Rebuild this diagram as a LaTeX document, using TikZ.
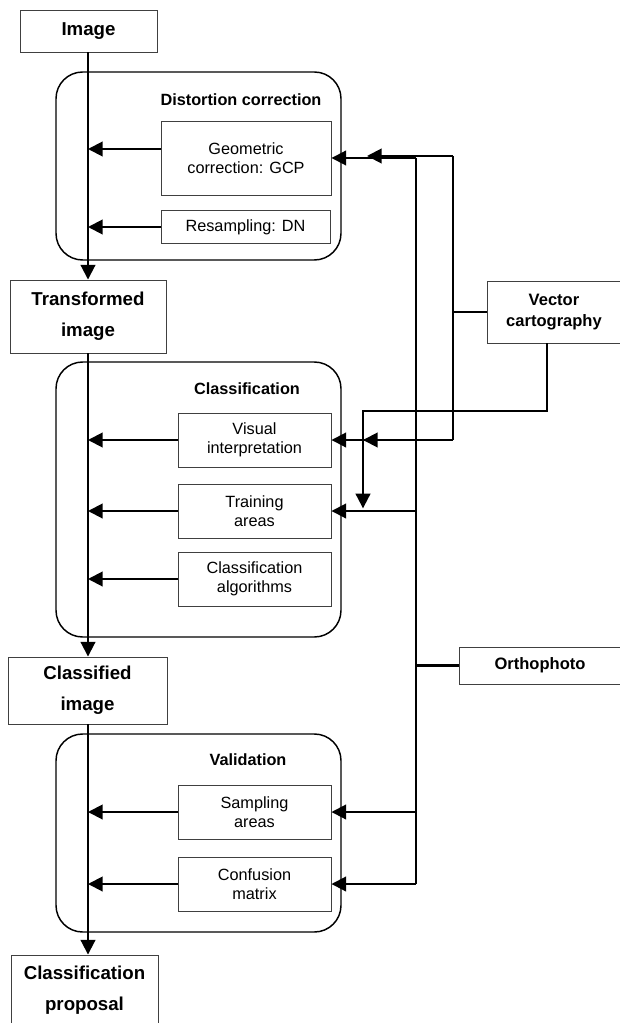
\documentclass[tikz,border=0pt]{standalone}
\usepackage{fontspec}
\setmainfont{Liberation Sans}
\usetikzlibrary{arrows.meta}
\begin{document}
\begin{tikzpicture}[x=0.75pt,y=-0.75pt,
  box/.style={draw=black!75, line width=0.7pt, rectangle, inner sep=0pt, align=center, font=\fontsize{12.2}{14.3}\selectfont},
  bigbox/.style={draw=black!75, line width=0.7pt, rectangle, inner sep=0pt, align=center, font=\bfseries\fontsize{14}{23}\selectfont},
  group/.style={draw=black, line width=1.1pt, rectangle, rounded corners=20pt, inner sep=0pt},
  gtitle/.style={font=\bfseries\fontsize{12.2}{14.3}\selectfont, inner sep=0pt},
  link/.style={line width=1.5pt},
  arr/.style={line width=1.5pt, -{Triangle[length=11pt,width=11pt]}},
  feed/.style={line width=2.2pt}
]
\useasboundingbox (0,0) rectangle (619,1023);

% group frames
\node[group, minimum width=213.75pt, minimum height=141pt] (dist) at (198.5,166) {};
\node[group, minimum width=213.75pt, minimum height=206.25pt] (cls) at (198.5,499.5) {};
\node[group, minimum width=213.75pt, minimum height=148.5pt] (val) at (198.5,833) {};

\node[gtitle] (tdist) at (241,100) {Distortion correction};
\node[gtitle] (tcls) at (247,389) {Classification};
\node[gtitle] (tval) at (248,760) {Validation};

% main chain
\node[bigbox, minimum width=102.75pt, minimum height=31.5pt] (img) at (88.5,31) {Image};
\node[bigbox, minimum width=117pt, minimum height=54.75pt] (trans) at (88,316.5) {Transformed\\image};
\node[bigbox, minimum width=119.25pt, minimum height=50.25pt] (clsimg) at (87.5,690.5) {Classified\\image};
\node[bigbox, minimum width=110.25pt, minimum height=52.5pt] (prop) at (84.5,990) {Classification\\proposal};

% inner boxes
\node[box, minimum width=127.5pt, minimum height=55.5pt] (geo) at (246,158) {Geometric\\correction: GCP};
\node[box, minimum width=126.75pt, minimum height=24.75pt] (res) at (245.5,227) {Resampling: DN};
\node[box, minimum width=114.75pt, minimum height=40.5pt] (vis) at (254.5,440) {Visual\\interpretation};
\node[box, minimum width=114.75pt, minimum height=40.5pt] (trn) at (254.5,511) {Training\\areas};
\node[box, minimum width=114.75pt, minimum height=40.5pt] (alg) at (254.5,579) {Classification\\algorithms};
\node[box, minimum width=114.75pt, minimum height=40.5pt] (smp) at (254.5,812) {Sampling\\areas};
\node[box, minimum width=114.75pt, minimum height=40.5pt] (conf) at (254.5,884) {Confusion\\matrix};

% sources
\node[bigbox, font=\bfseries\fontsize{12.4}{15.5}\selectfont, minimum width=100.5pt, minimum height=46.5pt] (vec) at (554,312) {Vector\\cartography};
\node[bigbox, font=\bfseries\fontsize{12.4}{15.5}\selectfont, minimum width=121.5pt, minimum height=27.75pt] (ortho) at (540,665.5) {Orthophoto};

% helper coordinates
\coordinate (sp) at (88,0);
\coordinate (ov) at (416,0);
\coordinate (vv) at (453,0);
\coordinate (dv) at (363,0);
\coordinate (vdrop) at (547,0);
\coordinate (geoL) at ([yshift=6.75pt]geo.west);
\coordinate (vtop) at (453,156);
\coordinate (vtip) at (367,156);

% main spine
\draw[arr] (img.south -| sp) -- (trans.north -| sp);
\draw[arr] (trans.south -| sp) -- (clsimg.north -| sp);
\draw[arr] (clsimg.south -| sp) -- (prop.north -| sp);

% left arrows
\draw[arr] (geoL) -- (geoL -| sp);
\draw[arr] (res.west) -- (res.west -| sp);
\draw[arr] (vis.west) -- (vis.west -| sp);
\draw[arr] (trn.west) -- (trn.west -| sp);
\draw[arr] (alg.west) -- (alg.west -| sp);
\draw[arr] (smp.west) -- (smp.west -| sp);
\draw[arr] (conf.west) -- (conf.west -| sp);

% orthophoto bus
\draw[link] (ov |- geo.east) -- (ov |- conf.east);
\draw[arr] (ov |- geo.east) -- (geo.east);
\draw[arr] (ov |- vis.east) -- (vis.east);
\draw[arr] (ov |- trn.east) -- (trn.east);
\draw[arr] (ov |- smp.east) -- (smp.east);
\draw[arr] (ov |- conf.east) -- (conf.east);
\draw[feed] (ortho.west) -- (ortho.west -| ov);

% vector cartography bus
\draw[link] (vtop) -- (vv |- vis.east);
\draw[arr] (vtop) -- (vtip);
\draw[arr] (vv |- vis.east) -- (dv |- vis.east);
\draw[feed] (vec.west) -- (vec.west -| vv);
\draw[arr] (vec.south -| vdrop) -- ++(0,68) -| ([yshift=2pt]trn.east -| dv);
\end{tikzpicture}
\end{document}
